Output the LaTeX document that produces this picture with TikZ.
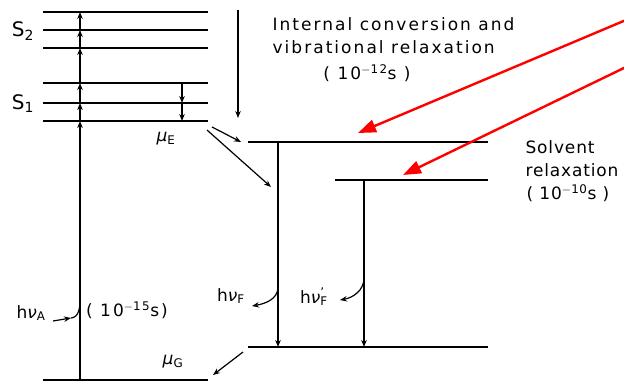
\documentclass[tikz,border=0pt]{standalone}
\usepackage{fontspec}
\setmainfont{DejaVu Sans}[LetterSpace=12]
\usetikzlibrary{arrows.meta}
\newcommand{\gk}[1]{{\itshape\addfontfeature{LetterSpace=0}#1}}
\newcommand{\sbs}[1]{\textsubscript{\addfontfeature{LetterSpace=0}#1}}
\begin{document}
\begin{tikzpicture}[x=1pt,y=-1pt,line width=1.2pt,
  lvl/.style={line width=1.7pt},
  arr/.style={-{Stealth[length=7pt,width=5.5pt]}},
  lab/.style={font=\fontsize{17}{20}\selectfont,inner sep=0pt},
  narrow/.style={font=\fontsize{17}{20}\selectfont\addfontfeature{LetterSpace=5}},
  redarr/.style={red,line width=2.4pt,-{Triangle[length=18pt,width=13pt]}}]
\useasboundingbox (0,0) rectangle (624,384);
% left ladder levels
\foreach \n/\y in {a/12,b/30,c/48,d/83,e/103,f/121,g/380}{
  \coordinate (L\n) at (43,\y);
  \coordinate (R\n) at (208,\y);
  \coordinate (V\n) at (80,\y);
  \draw[lvl] (L\n) -- (R\n);
}
% absorption arrow with heads at each level
\draw[arr] (Vg) -- (Vf);
\draw[arr] (Vf) -- (Ve);
\draw[arr] (Ve) -- (Vd);
\draw[arr] (Vd) -- (Vc);
\draw[arr] (Vc) -- (Vb);
\draw[arr] (Vb) -- (Va);
% vibrational relaxation in S1
\coordinate (Dd) at (182,83);
\coordinate (De) at (182,103);
\coordinate (Df) at (182,121);
\draw[arr] (Dd) -- (De);
\draw[arr] (De) -- (Df);
% state labels
\node[lab,font=\fontsize{20}{22}\selectfont] (S2) at (23,31) {S\sbs{2}};
\node[lab,font=\fontsize{20}{22}\selectfont] (S1) at (23,104) {S\sbs{1}};
\node[lab] (muE) at (166,139) {\gk{μ}\sbs{E}};
\node[lab] (muG) at (173,362) {\gk{μ}\sbs{G}};
% internal conversion arrow and text
\coordinate (ICt) at (238,10);
\coordinate (ICb) at (238,118);
\draw[arr] (ICt) -- (ICb);
\node[lab,anchor=west] (ic1) at (272,24) {Internal conversion and};
\node[lab,anchor=west] (ic2) at (272,47) {vibrational relaxation};
\node[lab] (ic3) at (367,73) {( 10\textsuperscript{$-$12}s )};
% solvent relaxed levels
\coordinate (UL) at (248,142);
\coordinate (UR) at (488,142);
\coordinate (ML) at (335,180);
\coordinate (MR) at (488,180);
\coordinate (GL) at (248,347);
\coordinate (GR) at (488,347);
\draw[lvl] (UL) -- (UR);
\draw[lvl] (ML) -- (MR);
\draw[lvl] (GL) -- (GR);
% arrows from mu_E
\coordinate (E1s) at (212,127);
\coordinate (E1e) at (241,142);
\coordinate (E2s) at (207,130);
\coordinate (E2e) at (271,187);
\draw[arr] (E1s) -- (E1e);
\draw[arr] (E2s) -- (E2e);
% emission arrows
\coordinate (F1t) at (278,142);
\coordinate (F1b) at (278,347);
\coordinate (F2t) at (364,180);
\coordinate (F2b) at (364,347);
\draw[arr] (F1t) -- (F1b);
\draw[arr] (F2t) -- (F2b);
% ground relaxation arrow
\coordinate (Gs) at (243,352);
\coordinate (Ge) at (213,375);
\draw[arr] (Gs) -- (Ge);
% photon labels
\node[lab] (hA) at (31,313) {h\gk{ν}\sbs{A}};
\node[lab] (t15) at (127,310) {( 10\textsuperscript{$-$15}s)};
\coordinate (hAs) at (53,321);
\coordinate (hAe) at (71,318);
\coordinate (hAv) at (80,300);
\draw[arr] (hAs) -- (hAe);
\draw (hAe) to[out=5,in=-90] (hAv);
\node[lab] (hF) at (231,296) {h\gk{ν}\sbs{F}};
\coordinate (hFv) at (278,287);
\coordinate (hFe) at (252,306);
\draw[arr] (hFv) to[out=-90,in=10] (hFe);
\node[lab] (hF2) at (314,297) {h\gk{ν}\rlap{\textsuperscript{’}}\sbs{F}};
\coordinate (hF2v) at (364,278);
\coordinate (hF2e) at (340,300);
\draw[arr] (hF2v) to[out=-90,in=10] (hF2e);
% solvent relaxation text
\node[lab,narrow,anchor=west] (sv1) at (525,147) {Solvent};
\node[lab,narrow,anchor=west] (sv2) at (525,170) {relaxation};
\node[lab,narrow,anchor=west] (sv3) at (526,193) {( 10\textsuperscript{$-$10}s )};
% red annotation arrows
\coordinate (r1s) at (626,20);
\coordinate (r1e) at (358,133);
\coordinate (r2s) at (626,67);
\coordinate (r2e) at (403,175);
\draw[redarr] (r1s) -- (r1e);
\draw[redarr] (r2s) -- (r2e);
\end{tikzpicture}
\end{document}
